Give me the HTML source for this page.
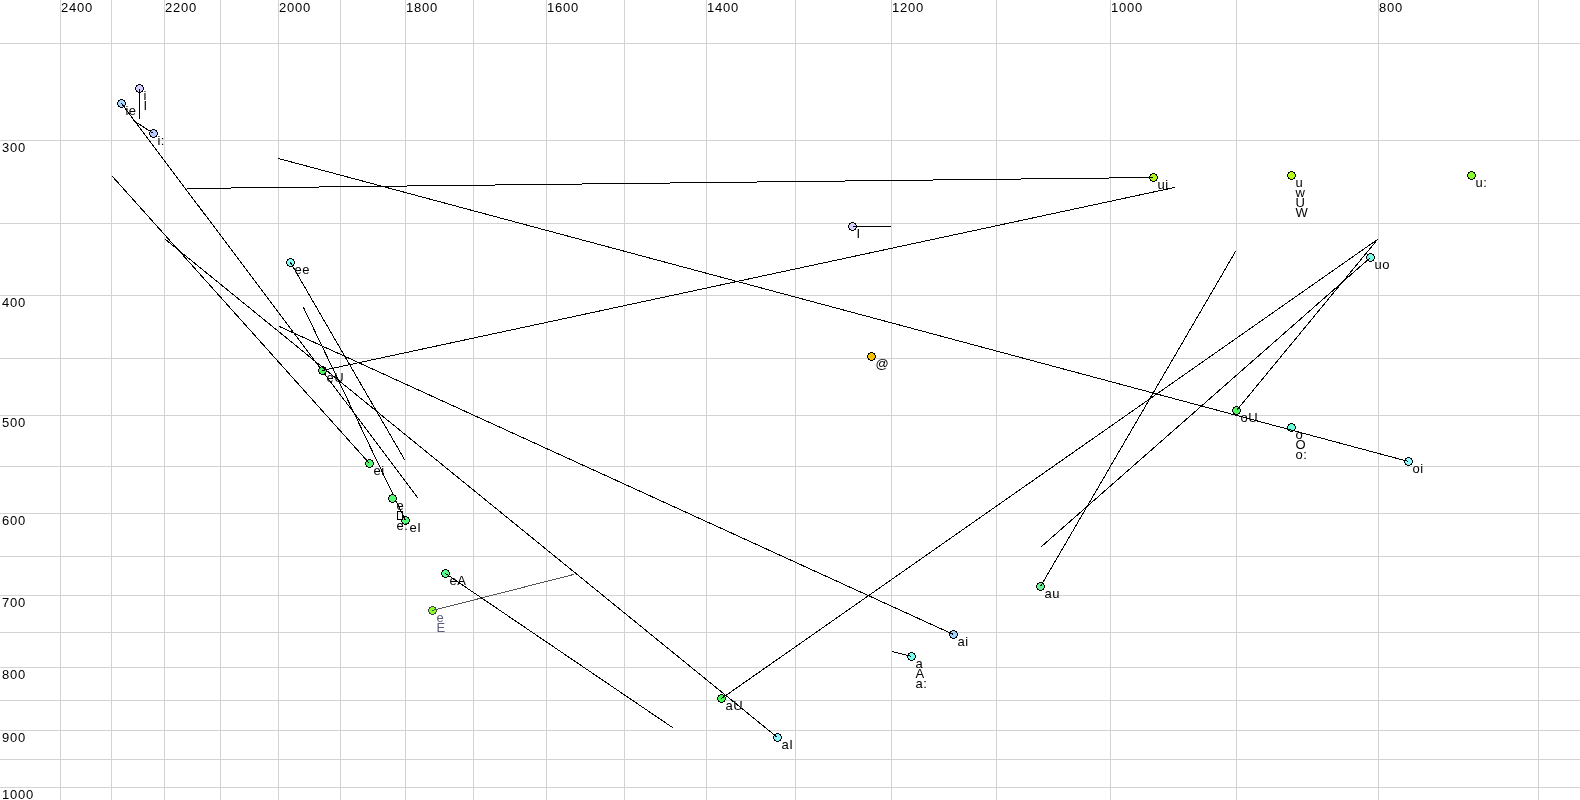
<!DOCTYPE html><html><head><meta charset="utf-8"><style>html,body{margin:0;padding:0;background:#fff;width:1580px;height:800px;overflow:hidden}svg{display:block;will-change:transform}text{font-family:"Liberation Sans",sans-serif;font-size:13px;letter-spacing:0.4px}text.d{letter-spacing:0.75px}</style></head><body>
<svg width="1580" height="800" viewBox="0 0 1580 800">
<defs><g id="o"><path d="M3 0h3v1h-3zM1 1h2v1h-2zM6 1h2v1h-2zM1 2h1v1h-1zM7 2h1v1h-1zM0 3h1v3h-1zM8 3h1v3h-1zM1 6h1v1h-1zM7 6h1v1h-1zM1 7h2v1h-2zM6 7h2v1h-2zM3 8h3v1h-3z"/></g>
<g id="f"><path d="M3 1h3v1h-3zM2 2h5v1h-5zM1 3h7v3h-7zM2 6h5v1h-5zM3 7h3v1h-3z"/></g></defs>
<rect width="1580" height="800" fill="#fff"/>
<path fill="#d3d3d3" shape-rendering="crispEdges" d="M0 43h1580v1h-1580zM0 140h1580v1h-1580zM0 223h1580v1h-1580zM0 295h1580v1h-1580zM0 358h1580v1h-1580zM0 415h1580v1h-1580zM0 466h1580v1h-1580zM0 513h1580v1h-1580zM0 556h1580v1h-1580zM0 595h1580v1h-1580zM0 632h1580v1h-1580zM0 667h1580v1h-1580zM0 700h1580v1h-1580zM0 730h1580v1h-1580zM0 759h1580v1h-1580zM0 787h1580v1h-1580zM1538 0h1v800h-1zM1378 0h1v800h-1zM1236 0h1v800h-1zM1110 0h1v800h-1zM996 0h1v800h-1zM891 0h1v800h-1zM795 0h1v800h-1zM706 0h1v800h-1zM624 0h1v800h-1zM546 0h1v800h-1zM473 0h1v800h-1zM405 0h1v800h-1zM340 0h1v800h-1zM278 0h1v800h-1zM220 0h1v800h-1zM164 0h1v800h-1zM111 0h1v800h-1zM60 0h1v800h-1z"/>
<g fill="#000"><text class="d" x="1379" y="12">800</text><text class="d" x="1111" y="12">1000</text><text class="d" x="892" y="12">1200</text><text class="d" x="707" y="12">1400</text><text class="d" x="547" y="12">1600</text><text class="d" x="406" y="12">1800</text><text class="d" x="279" y="12">2000</text><text class="d" x="165" y="12">2200</text><text class="d" x="61" y="12">2400</text><text class="d" x="2" y="152">300</text><text class="d" x="2" y="307">400</text><text class="d" x="2" y="427">500</text><text class="d" x="2" y="525">600</text><text class="d" x="2" y="607">700</text><text class="d" x="2" y="679">800</text><text class="d" x="2" y="742">900</text><text class="d" x="2" y="799">1000</text></g>
<g shape-rendering="crispEdges"><use href="#f" x="428" y="606" fill="#88ff22"/><use href="#o" x="428" y="606" fill="#444"/><line x1="432.50" y1="610.50" x2="574.00" y2="574.37" stroke="#555" stroke-width="1" shape-rendering="crispEdges"/><text x="436.5" y="622" fill="#5c5c80">e</text><text x="436.5" y="632" fill="#5c5c80">E</text><use href="#f" x="135" y="84" fill="#d7cdff"/><use href="#o" x="135" y="84" fill="#000"/><line x1="139.50" y1="88.50" x2="139.50" y2="119.00" stroke="#000" stroke-width="1" shape-rendering="crispEdges"/><text x="143.5" y="100" fill="#000">i</text><text x="143.5" y="110" fill="#000">I</text><use href="#f" x="117" y="99" fill="#aad7ff"/><use href="#o" x="117" y="99" fill="#000"/><line x1="121.50" y1="103.50" x2="417.88" y2="498.00" stroke="#000" stroke-width="1" shape-rendering="crispEdges"/><text x="125.5" y="115" fill="#000">ie</text><use href="#f" x="149" y="129" fill="#b9c8ff"/><use href="#o" x="149" y="129" fill="#000"/><line x1="153.50" y1="133.50" x2="133.00" y2="120.17" stroke="#000" stroke-width="1" shape-rendering="crispEdges"/><text x="157.5" y="145" fill="#000">i:</text><use href="#f" x="286" y="258" fill="#80fff5"/><use href="#o" x="286" y="258" fill="#000"/><line x1="290.50" y1="262.50" x2="404.79" y2="460.00" stroke="#000" stroke-width="1" shape-rendering="crispEdges"/><text x="294.5" y="274" fill="#000">ee</text><use href="#f" x="318" y="366" fill="#46fa5a"/><use href="#o" x="318" y="366" fill="#000"/><line x1="322.50" y1="370.50" x2="1175.00" y2="187.39" stroke="#000" stroke-width="1" shape-rendering="crispEdges"/><text x="326.5" y="382" fill="#000">eU</text><use href="#f" x="365" y="459" fill="#50fa6e"/><use href="#o" x="365" y="459" fill="#000"/><line x1="369.50" y1="463.50" x2="112.05" y2="176.00" stroke="#000" stroke-width="1" shape-rendering="crispEdges"/><text x="373.5" y="475" fill="#000">ei</text><use href="#f" x="401" y="516" fill="#55fa78"/><use href="#o" x="401" y="516" fill="#000"/><line x1="405.50" y1="520.50" x2="303.26" y2="307.00" stroke="#000" stroke-width="1" shape-rendering="crispEdges"/><text x="409.5" y="532" fill="#000">eI</text><use href="#f" x="388" y="494" fill="#55fa78"/><use href="#o" x="388" y="494" fill="#000"/><text x="396.5" y="510" fill="#000">e</text><path fill="#000" fill-rule="evenodd" d="M397 511h6v9h-6zM398 512h4v7h-4z"/><text x="396.5" y="530" fill="#000">e:</text><use href="#f" x="441" y="569" fill="#5aff8c"/><use href="#o" x="441" y="569" fill="#000"/><line x1="445.50" y1="573.50" x2="673.00" y2="727.84" stroke="#000" stroke-width="1" shape-rendering="crispEdges"/><text x="449.5" y="585" fill="#000">eA</text><use href="#f" x="717" y="694" fill="#46fa50"/><use href="#o" x="717" y="694" fill="#000"/><line x1="721.50" y1="698.50" x2="1378.00" y2="239.15" stroke="#000" stroke-width="1" shape-rendering="crispEdges"/><text x="725.5" y="710" fill="#000">aU</text><use href="#f" x="773" y="733" fill="#8cf5ff"/><use href="#o" x="773" y="733" fill="#000"/><line x1="777.50" y1="737.50" x2="165.00" y2="239.09" stroke="#000" stroke-width="1" shape-rendering="crispEdges"/><text x="781.5" y="749" fill="#000">aI</text><use href="#f" x="907" y="652" fill="#78fff0"/><use href="#o" x="907" y="652" fill="#000"/><line x1="911.50" y1="656.50" x2="892.00" y2="651.37" stroke="#000" stroke-width="1" shape-rendering="crispEdges"/><text x="915.5" y="668" fill="#000">a</text><text x="915.5" y="678" fill="#000">A</text><text x="915.5" y="688" fill="#000">a:</text><use href="#f" x="949" y="630" fill="#a0d2ff"/><use href="#o" x="949" y="630" fill="#000"/><line x1="953.50" y1="634.50" x2="279.00" y2="326.27" stroke="#000" stroke-width="1" shape-rendering="crispEdges"/><text x="957.5" y="646" fill="#000">ai</text><use href="#f" x="848" y="222" fill="#dcd2ff"/><use href="#o" x="848" y="222" fill="#000"/><line x1="852.50" y1="226.50" x2="891.00" y2="226.50" stroke="#000" stroke-width="1" shape-rendering="crispEdges"/><text x="856.5" y="238" fill="#000">I</text><use href="#f" x="867" y="352" fill="#f5c000"/><use href="#o" x="867" y="352" fill="#000"/><text x="875.5" y="368" fill="#000">@</text><use href="#f" x="1149" y="173" fill="#aff51e"/><use href="#o" x="1149" y="173" fill="#000"/><line x1="1153.50" y1="177.50" x2="187.00" y2="188.51" stroke="#000" stroke-width="1" shape-rendering="crispEdges"/><text x="1157.5" y="189" fill="#000">ui</text><use href="#f" x="1287" y="171" fill="#b4fa19"/><use href="#o" x="1287" y="171" fill="#000"/><text x="1295.5" y="187" fill="#000">u</text><text x="1295.5" y="197" fill="#000">w</text><text x="1295.5" y="207" fill="#000">U</text><text x="1295.5" y="217" fill="#000">W</text><use href="#f" x="1467" y="171" fill="#8cfa28"/><use href="#o" x="1467" y="171" fill="#000"/><text x="1475.5" y="187" fill="#000">u:</text><use href="#f" x="1366" y="253" fill="#78ffeb"/><use href="#o" x="1366" y="253" fill="#000"/><line x1="1370.50" y1="257.50" x2="1041.00" y2="546.94" stroke="#000" stroke-width="1" shape-rendering="crispEdges"/><text x="1374.5" y="269" fill="#000">uo</text><use href="#f" x="1232" y="406" fill="#4bfa5f"/><use href="#o" x="1232" y="406" fill="#000"/><line x1="1236.50" y1="410.50" x2="1377.91" y2="239.00" stroke="#000" stroke-width="1" shape-rendering="crispEdges"/><text x="1240.5" y="422" fill="#000">oU</text><use href="#f" x="1287" y="423" fill="#66ffd7"/><use href="#o" x="1287" y="423" fill="#000"/><text x="1295.5" y="439" fill="#000">o</text><text x="1295.5" y="449" fill="#000">O</text><text x="1295.5" y="459" fill="#000">o:</text><use href="#f" x="1404" y="457" fill="#8cfaff"/><use href="#o" x="1404" y="457" fill="#000"/><line x1="1408.50" y1="461.50" x2="278.00" y2="158.37" stroke="#000" stroke-width="1" shape-rendering="crispEdges"/><text x="1412.5" y="473" fill="#000">oi</text><use href="#f" x="1036" y="582" fill="#64f596"/><use href="#o" x="1036" y="582" fill="#000"/><line x1="1040.50" y1="586.50" x2="1235.79" y2="251.00" stroke="#000" stroke-width="1" shape-rendering="crispEdges"/><text x="1044.5" y="598" fill="#000">au</text></g>
</svg></body></html>
